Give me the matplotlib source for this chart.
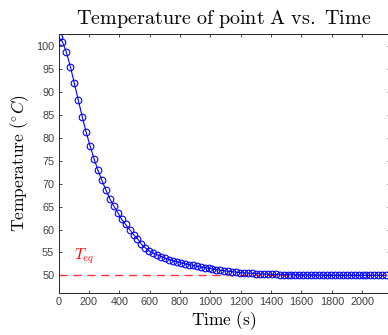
import numpy as np
import matplotlib
matplotlib.use('Agg')
import matplotlib.pyplot as plt

### Data ###
dt = 26.0                               # sampling step (s)
temp = [101.9, 100.9, 98.6, 95.5, 91.9, 88.2, 84.6, 81.2, 78.2, 75.4,
        72.9, 70.7, 68.6, 66.7, 65.1, 63.7, 62.2, 61.1, 60.0, 58.9,
        58.0, 56.8, 56.0, 55.3, 54.9, 54.5, 54.1, 53.75, 53.45, 53.2,
        52.95, 52.75, 52.55, 52.35, 52.2, 52.0, 51.85, 51.7, 51.55, 51.4,
        51.25, 51.1, 51.0, 50.9, 50.8, 50.7, 50.6, 50.55, 50.5, 50.45,
        50.4, 50.35, 50.3, 50.27, 50.24, 50.21, 50.18, 50.16, 50.14, 50.12,
        50.1, 50.09, 50.08, 50.07, 50.06, 50.06, 50.05, 50.05, 50.04, 50.04,
        50.04, 50.03, 50.03, 50.03, 50.03, 50.02, 50.02, 50.02, 50.02, 50.02,
        50.02, 50.02, 50.01, 50.01]
time = np.arange(len(temp)) * dt
t_eq = 50
x_ticks = [0, 200, 400, 600, 800, 1000, 1200, 1400, 1600, 1800, 2000]
y_ticks = [50, 55, 60, 65, 70, 75, 80, 85, 90, 95, 100]


def main():
    plt.rcParams['mathtext.fontset'] = 'cm'
    fig = plt.figure(figsize=(3.88, 3.35), dpi=100)
    ax = fig.add_axes([0.1508, 0.1245, 1.004 - 0.1508, 0.8985 - 0.1245])

    ax.axhline(t_eq, color='#ff3333', linestyle=(0, (6, 4)), linewidth=1.0)
    ax.plot(time, temp, color='b', marker='o', markersize=4.8,
            markerfacecolor='none', markeredgewidth=0.8, linewidth=0.8)
    ax.text(100, 54.1, r'$T_{eq}$', color='red', fontsize=11,
            ha='left', va='center')

    ax.set_xlim(0, 2180)
    ax.set_ylim(46.1, 102.6)
    ax.set_xticks(x_ticks)
    ax.set_yticks(y_ticks)
    ax.tick_params(direction='in', length=2.5, width=0.6, top=True, right=True,
                   labelsize=7.8, colors='#262626', pad=3)
    for lab in ax.get_xticklabels() + ax.get_yticklabels():
        lab.set_family('Liberation Sans')
        lab.set_color('#404040')
    for sp in ax.spines.values():
        sp.set_color('#262626')
        sp.set_linewidth(0.7)

    ax.set_title(r'$\mathrm{Temperature\ of\ point\ A\ vs.\ Time}$',
                 fontsize=14.5, pad=7)
    ax.set_xlabel(r'$\mathrm{Time\ (s)}$', fontsize=12.5, labelpad=1)
    ax.set_ylabel(r'$\mathrm{Temperature}\ (^{\circ}C)$', fontsize=12.5,
                  labelpad=4)

    fig.savefig('out.png', dpi=100)


if __name__ == '__main__':
    main()
